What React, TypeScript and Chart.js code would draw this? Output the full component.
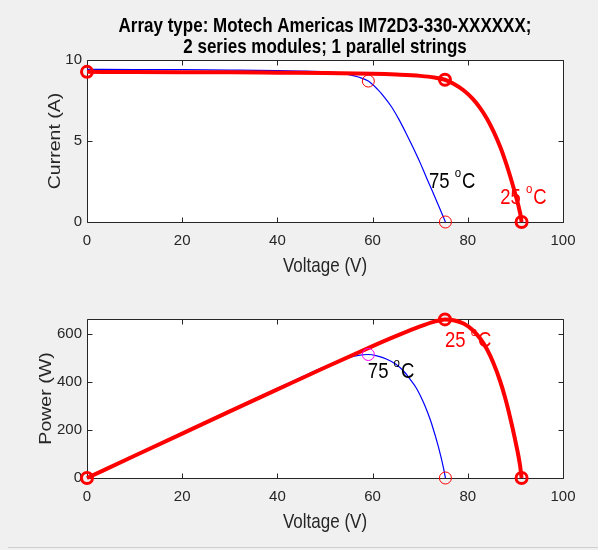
import React, { useEffect, useRef } from "react";
import { Chart, registerables } from "chart.js";
Chart.register(...registerables);

// ---- data ----
const titleLines = ["Array type: Motech Americas IM72D3-330-XXXXXX;", "2 series modules; 1 parallel strings"];

// 25 °C curve (thick red)
const voltage25 = [0, 10, 20, 30, 40, 50, 60, 65, 70, 73, 75.2, 77, 79.1, 81, 82.6, 84, 85.4, 86.8, 87.8, 88.5, 89.9, 91.0, 91.3];
const current25 = [9.27, 9.26, 9.25, 9.24, 9.22, 9.2, 9.15, 9.1, 9.02, 8.92, 8.78, 8.53, 8.13, 7.61, 7.03, 6.39, 5.59, 4.64, 3.84, 3.21, 1.81, 0.54, 0];
const power25 = [0, 92.6, 185.0, 277.2, 368.8, 460.0, 549.0, 591.5, 631.4, 651.2, 660.3, 656.8, 643.1, 616.4, 580.7, 536.8, 477.4, 402.8, 337.2, 284.1, 162.7, 49.1, 0];

// 75 °C curve (thin blue)
const voltage75iv = [0, 10, 20, 30, 40, 45, 50, 53, 55, 57, 59.1, 61, 62.5, 64, 65.5, 67, 68.5, 70, 71.3, 72.5, 73.8, 75.3];
const current75 = [9.42, 9.41, 9.4, 9.38, 9.35, 9.32, 9.27, 9.2, 9.1, 8.95, 8.7, 8.2, 7.7, 7.1, 6.35, 5.5, 4.6, 3.65, 2.75, 1.95, 1.05, 0];
const voltage75pv = [0, 10, 20, 30, 40, 45, 50, 53, 55, 57, 59.1, 60.9, 63, 64.9, 66.5, 67.9, 69.3, 70.7, 71.7, 72.4, 73.8, 74.9, 75.3];
const power75 = [0, 94.1, 188.0, 281.4, 374.0, 419.4, 463.5, 487.6, 500.5, 510.2, 514.2, 508.5, 494.6, 473.8, 445.6, 410.8, 370.8, 314.6, 265.3, 225.9, 131.4, 41.2, 0];

// key points: Isc, MPP, Voc
const key25V = [0, 75.2, 91.3];
const key25I = [9.27, 8.78, 0];
const key25P = [0, 660.3, 0];
const key75V = [59.1, 75.3];
const key75I = [8.7, 0];
const key75P = [514.2, 0];

const xTicks = [0, 20, 40, 60, 80, 100];
const currentTicks = [0, 5, 10];
const powerTicks = [0, 200, 400, 600];
const xRange = [0, 100];
const currentRange = [0, 10];
const powerRange = [0, 662];

// temperature labels anchored in data units
const ivLabels = [
  { num: "75", v: 71.85, val: 2.1, color: "#000000" },
  { num: "25", v: 86.8, val: 1.11, color: "#ff0000" },
];
const pvLabels = [
  { num: "25", v: 75.2, val: 546, color: "#ff0000" },
  { num: "75", v: 59.0, val: 418, color: "#000000" },
];

// ---- drawing helpers ----
const FAMILY = "'Liberation Sans', Arial, Helvetica, sans-serif";
const SY = 1.15; // vertical stretch seen in the reference
const INK = "#262626";

function sText(ctx: CanvasRenderingContext2D, text: string, x: number, y: number, font: string, color: string, align: CanvasTextAlign) {
  ctx.save();
  ctx.font = font;
  ctx.fillStyle = color;
  ctx.textAlign = align;
  ctx.textBaseline = "alphabetic";
  ctx.translate(x, y);
  ctx.scale(1, SY);
  ctx.fillText(text, 0, 0);
  ctx.restore();
}

function degText(ctx: CanvasRenderingContext2D, num: string, x: number, y: number, color: string) {
  const big = `18.5px ${FAMILY}`;
  const small = `11.5px ${FAMILY}`;
  ctx.save();
  ctx.font = big;
  const w1 = ctx.measureText(num + " ").width;
  sText(ctx, num + " ", x, y, big, color, "left");
  ctx.font = small;
  const w2 = ctx.measureText("o").width;
  sText(ctx, "o", x + w1, y - 11, small, color, "left");
  sText(ctx, "C", x + w1 + w2 + 1, y, big, color, "left");
  ctx.restore();
}

function makeFramePlugin(opts: {
  title: string[] | null;
  xTitleBaseline: number;
  yTitle: string;
  yTitleX: number;
  yTicksList: number[];
  labels: { num: string; v: number; val: number; color: string }[];
}) {
  return {
    id: "frame",
    beforeDraw(chart: any) {
      const { ctx, chartArea: a } = chart;
      ctx.save();
      ctx.fillStyle = "#ffffff";
      ctx.fillRect(a.left, a.top, a.right - a.left, a.bottom - a.top);
      ctx.restore();
    },
    beforeDatasetsDraw(chart: any) {
      const { ctx, chartArea: a } = chart;
      const xs = chart.scales.x;
      const ys = chart.scales.y;
      ctx.save();
      ctx.strokeStyle = INK;
      ctx.lineWidth = 1;
      const L = Math.round(a.left) + 0.5;
      const R = Math.round(a.right) + 0.5;
      const T = Math.round(a.top) + 0.5;
      const B = Math.round(a.bottom) + 0.5;
      ctx.beginPath();
      ctx.rect(L, T, R - L, B - T);
      const tl = 5;
      xTicks.forEach((v) => {
        const px = Math.round(xs.getPixelForValue(v)) + 0.5;
        ctx.moveTo(px, B);
        ctx.lineTo(px, B - tl);
        ctx.moveTo(px, T);
        ctx.lineTo(px, T + tl);
      });
      opts.yTicksList.forEach((v) => {
        const py = Math.round(ys.getPixelForValue(v)) + 0.5;
        ctx.moveTo(L, py);
        ctx.lineTo(L + tl, py);
        ctx.moveTo(R, py);
        ctx.lineTo(R - tl, py);
      });
      ctx.stroke();
      ctx.restore();
    },
    afterDraw(chart: any) {
      const { ctx, chartArea: a } = chart;
      const xs = chart.scales.x;
      const ys = chart.scales.y;
      const cx = (a.left + a.right) / 2;
      if (opts.title) {
        sText(ctx, opts.title[0], cx, 31.5, `bold 17px ${FAMILY}`, "#000000", "center");
        sText(ctx, opts.title[1], cx, 52.5, `bold 17px ${FAMILY}`, "#000000", "center");
      }
      sText(ctx, "Voltage (V)", cx, opts.xTitleBaseline, `17px ${FAMILY}`, INK, "center");
      ctx.save();
      ctx.font = `17px ${FAMILY}`;
      ctx.fillStyle = INK;
      ctx.textAlign = "center";
      ctx.textBaseline = "alphabetic";
      ctx.translate(opts.yTitleX, (a.top + a.bottom) / 2);
      ctx.rotate(-Math.PI / 2);
      ctx.scale(SY, 1);
      ctx.fillText(opts.yTitle, 0, 0);
      ctx.restore();
      opts.labels.forEach((l) => {
        degText(ctx, l.num, xs.getPixelForValue(l.v), ys.getPixelForValue(l.val), l.color);
      });
    },
  };
}

function pts(xv: number[], yv: number[]) {
  return xv.map((x, i) => ({ x, y: yv[i] }));
}

function makeConfig(p: {
  key25: { x: number; y: number }[];
  key75: { x: number; y: number }[];
  key75MppColor: string;
  line25: { x: number; y: number }[];
  line75: { x: number; y: number }[];
  yRange: number[];
  yTicksList: number[];
  padTop: number;
  xHeight: number;
  plugin: any;
}) {
  const tickFont = { family: FAMILY, size: 15 };
  return {
    type: "scatter" as const,
    data: {
      datasets: [
        {
          data: p.key25,
          showLine: false,
          pointStyle: "circle",
          pointRadius: 5.5,
          pointBorderWidth: 3,
          pointBorderColor: "#ff0000",
          pointBackgroundColor: "rgba(0,0,0,0)",
          clip: false,
        },
        {
          data: p.key75,
          showLine: false,
          pointStyle: "circle",
          pointRadius: 6,
          pointBorderWidth: 1,
          pointBorderColor: [p.key75MppColor, "#ff0000"],
          pointBackgroundColor: "rgba(0,0,0,0)",
          clip: false,
        },
        {
          data: p.line25,
          showLine: true,
          borderColor: "#ff0000",
          borderWidth: 4,
          pointRadius: 0,
          cubicInterpolationMode: "monotone",
          clip: false,
        },
        {
          data: p.line75,
          showLine: true,
          borderColor: "#0000ff",
          borderWidth: 1.2,
          pointRadius: 0,
          cubicInterpolationMode: "monotone",
          clip: false,
        },
      ],
    },
    options: {
      responsive: false,
      animation: false,
      events: [],
      layout: { padding: { left: 0, right: 35, top: p.padTop, bottom: 0 } },
      plugins: { legend: { display: false }, tooltip: { enabled: false }, title: { display: false } },
      scales: {
        x: {
          type: "linear",
          min: xRange[0],
          max: xRange[1],
          afterBuildTicks: (s: any) => {
            s.ticks = xTicks.map((v) => ({ value: v }));
          },
          afterFit: (s: any) => {
            s.height = p.xHeight;
          },
          grid: { display: false, drawTicks: false },
          border: { display: false },
          ticks: { font: tickFont, color: INK, padding: 10, maxRotation: 0, autoSkip: false },
        },
        y: {
          type: "linear",
          min: p.yRange[0],
          max: p.yRange[1],
          afterBuildTicks: (s: any) => {
            s.ticks = p.yTicksList.map((v) => ({ value: v }));
          },
          afterFit: (s: any) => {
            s.width = 87;
          },
          grid: { display: false, drawTicks: false },
          border: { display: false },
          ticks: { font: tickFont, color: INK, padding: 5, autoSkip: false },
        },
      },
    },
    plugins: [p.plugin],
  };
}

export default function App() {
  const topRef = useRef<HTMLCanvasElement>(null);
  const botRef = useRef<HTMLCanvasElement>(null);

  useEffect(() => {
    const topPlugin = makeFramePlugin({
      title: titleLines,
      xTitleBaseline: 272,
      yTitle: "Current (A)",
      yTitleX: 59.5,
      yTicksList: currentTicks,
      labels: ivLabels,
    });
    const botPlugin = makeFramePlugin({
      title: null,
      xTitleBaseline: 528 - 290,
      yTitle: "Power (W)",
      yTitleX: 51,
      yTicksList: powerTicks,
      labels: pvLabels,
    });
    const c1 = new Chart(
      topRef.current as HTMLCanvasElement,
      makeConfig({
        key25: pts(key25V, key25I),
        key75: pts(key75V, key75I),
        key75MppColor: "#ff0000",
        line25: pts(voltage25, current25),
        line75: pts(voltage75iv, current75),
        yRange: currentRange,
        yTicksList: currentTicks,
        padTop: 60,
        xHeight: 68,
        plugin: topPlugin,
      }) as any
    );
    const c2 = new Chart(
      botRef.current as HTMLCanvasElement,
      makeConfig({
        key25: pts(key25V, key25P),
        key75: pts(key75V, key75P),
        key75MppColor: "#ff00ff",
        line25: pts(voltage25, power25),
        line75: pts(voltage75pv, power75),
        yRange: powerRange,
        yTicksList: powerTicks,
        padTop: 29,
        xHeight: 72,
        plugin: botPlugin,
      }) as any
    );
    return () => {
      c1.destroy();
      c2.destroy();
    };
  }, []);

  return (
    <div style={{ position: "fixed", left: 0, top: 0, width: 598, height: 550, background: "#f0f0f0", overflow: "hidden" }}>
      <canvas ref={topRef} width={598} height={290} style={{ position: "absolute", left: 0, top: 0, width: 598, height: 290 }} />
      <canvas ref={botRef} width={598} height={260} style={{ position: "absolute", left: 0, top: 290, width: 598, height: 260 }} />
      <div style={{ position: "absolute", left: 8, top: 547, width: 590, height: 1, background: "#cfcfcf" }} />
    </div>
  );
}
